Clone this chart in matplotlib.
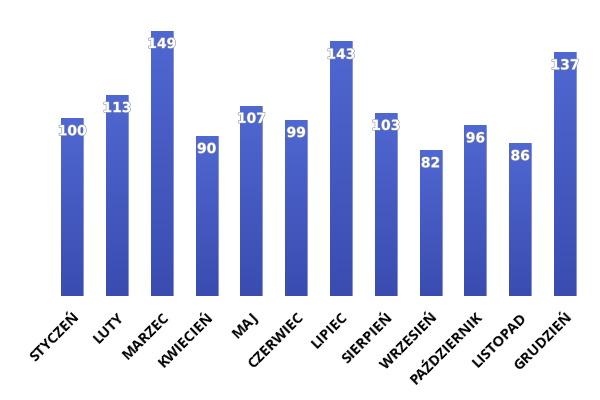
import matplotlib.pyplot as plt
import matplotlib.patheffects as pe
import numpy as np

months = ['STYCZEŃ', 'LUTY', 'MARZEC', 'KWIECIEŃ', 'MAJ', 'CZERWIEC',
          'LIPIEC', 'SIERPIEŃ', 'WRZESIEŃ', 'PAŹDZIERNIK', 'LISTOPAD', 'GRUDZIEŃ']
values = [100, 113, 149, 90, 107, 99, 143, 103, 82, 96, 86, 137]

fig = plt.figure(figsize=(6, 4), dpi=100)
ax = fig.add_axes([0.083, 0.26, 0.896, 0.6675])

bars = ax.bar(range(len(values)), values, width=0.49, color='none',
              edgecolor='#6f80d0', linewidth=0.6)

# vertical gradient inside each bar
grad = np.linspace(0, 1, 256).reshape(-1, 1)
cmap = plt.matplotlib.colors.LinearSegmentedColormap.from_list(
    'g', ['#3a4cb0', '#5068d2'])
for b in bars:
    x0, w, h = b.get_x(), b.get_width(), b.get_height()
    im = ax.imshow(grad, cmap=cmap, aspect='auto', origin='lower',
                   extent=[x0, x0 + w, 0, h], zorder=1)
    im.set_clip_path(b)
    ax.text(x0 + w / 2, h - 3.5, str(int(h)), ha='center', va='top',
            color='white', fontsize=10, fontweight='bold', zorder=3,
            path_effects=[pe.withStroke(linewidth=0.8, foreground='#8890a8')])

ax.set_xlim(-0.5, len(values) - 0.5)
ax.set_ylim(0, 150)
ax.set_xticks(range(len(values)))
ax.set_xticklabels(months, rotation=45, ha='right', rotation_mode='anchor',
                   fontsize=10.5, fontfamily='Open Sans', fontweight='bold')
ax.tick_params(axis='x', length=0, pad=10)
ax.set_yticks([])
for s in ax.spines.values():
    s.set_visible(False)

fig.savefig('out.png', dpi=100)
